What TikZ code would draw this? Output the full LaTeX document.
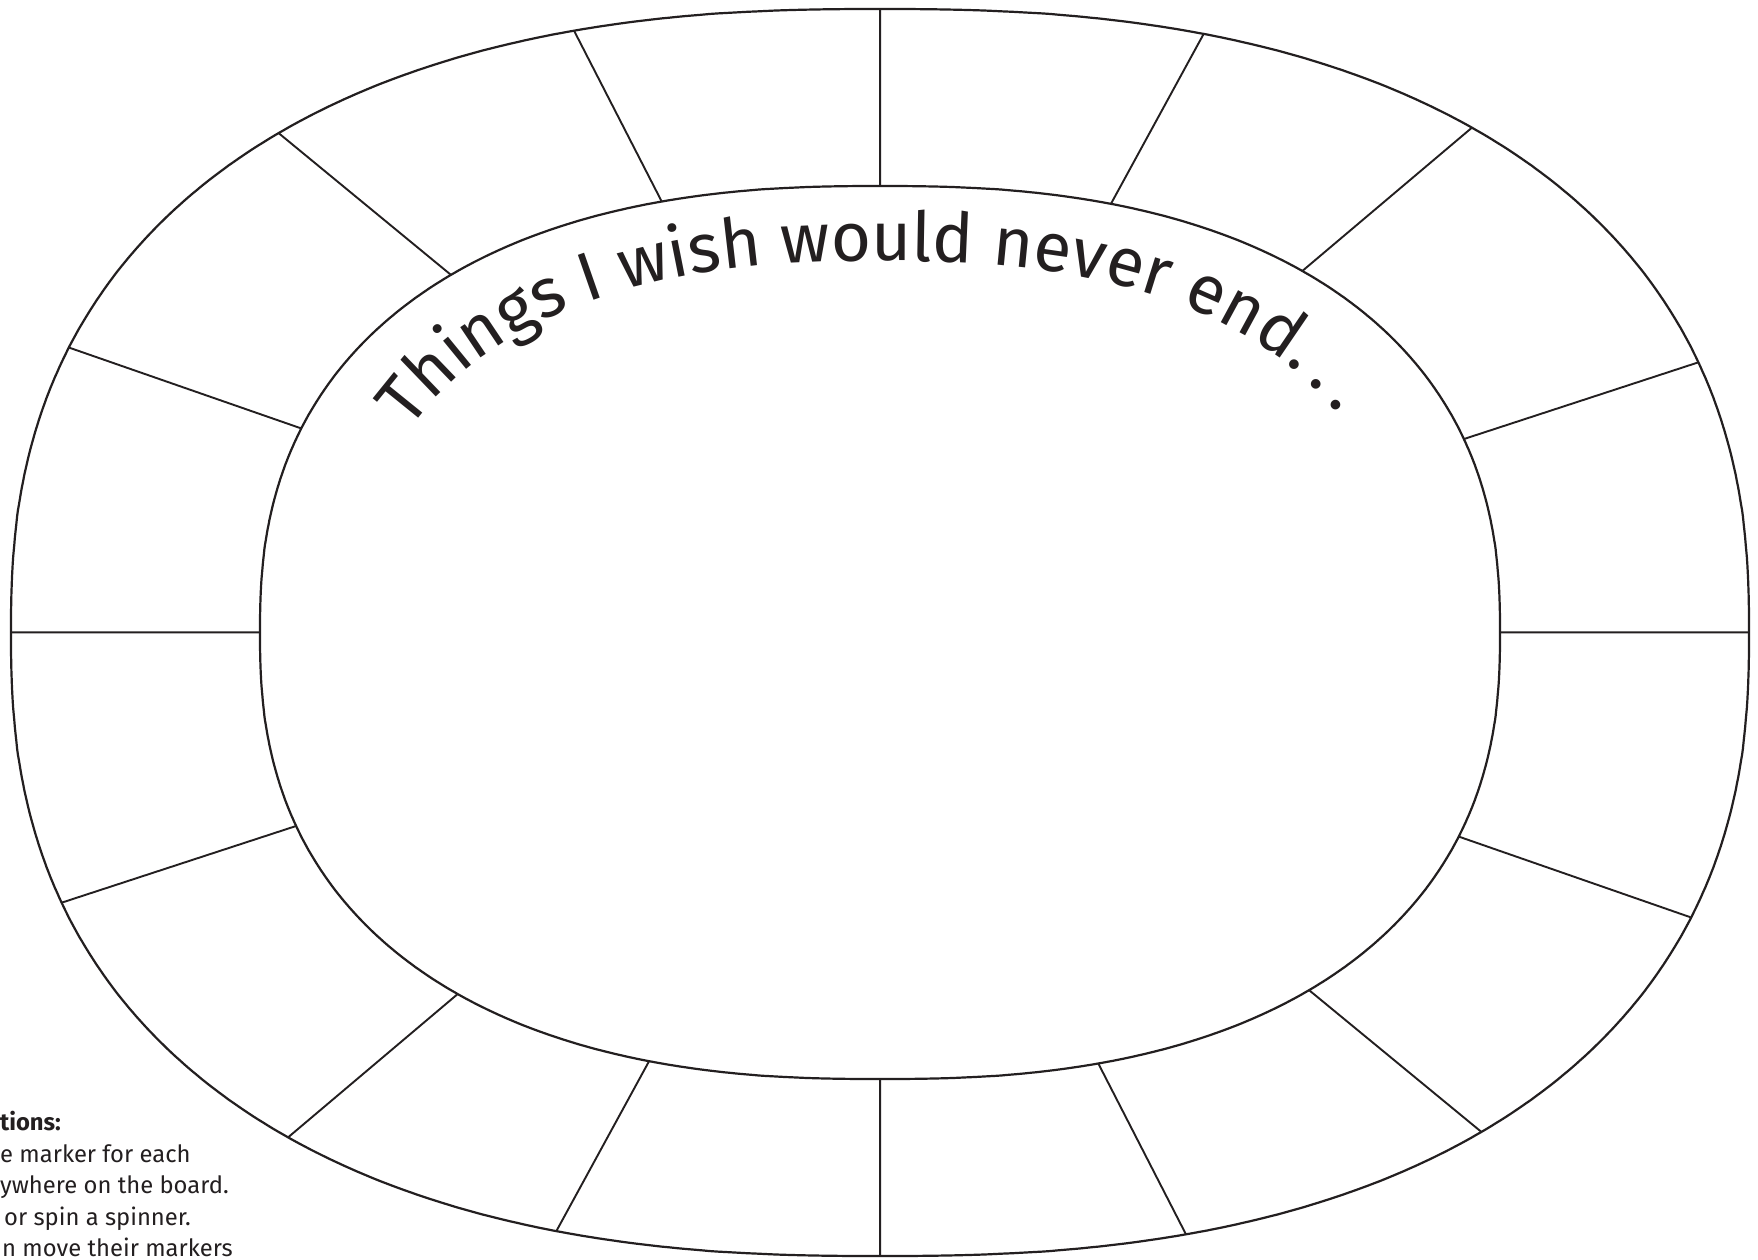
\documentclass[tikz,border=0pt]{standalone}
\usepackage{fontspec}
\setmainfont{Fira Sans}
\usetikzlibrary{decorations.text}
\definecolor{ink}{HTML}{231F20}
\newcommand\boardtitlefont{\fontsize{69}{83}\selectfont\color{ink}}
\newcommand\boarddotgap{\fontsize{46}{46}\selectfont\color{ink}}
\tikzset{
  declare function={
    sgnf(\t)=ifthenelse(\t<0,-1,1);
    spx(\t)=sgnf(cos(\t))*pow(abs(cos(\t))+0.00001,0.8333);
    spy(\t)=sgnf(sin(\t))*pow(abs(sin(\t))+0.00001,0.8333);
  },
  rim/.style={draw=ink, line width=2.2pt, line join=round},
  spoke/.style={draw=ink, line width=1.9pt},
  note/.style={anchor=base west, inner sep=0pt, text=ink, font=\fontsize{23.8}{30}\selectfont},
}
\begin{document}
\begin{tikzpicture}[x=1pt, y=-1pt]
  \useasboundingbox (0,0) rectangle (1758,1259);
  \fill[white] (0,0) rectangle (1758,1259);
  % outer and inner rims (superellipses)
  \draw[rim] plot[domain=0:359.5, samples=720] ({880+869*spx(\x)},{632.5-623.5*spy(\x)}) -- cycle;
  \draw[rim] plot[domain=0:359.5, samples=720] ({880+620*spx(\x)},{632.5-446.5*spy(\x)}) -- cycle;
  % spokes
  \foreach \t in {0,21.5,50.9,72.2,90,106.6,130,157,180,201.5,230.9,252.2,270,286.6,310,337}{
    \draw[spoke] ({880+620*spx(\t)},{632.5-446.5*spy(\t)}) -- ({880+869*spx(\t)},{632.5-623.5*spy(\t)});
  }
  % curved title
  \path[decorate, decoration={text along path,
      text={|\boardtitlefont|Things I wish would never end.|\boarddotgap| |\boardtitlefont|.|\boarddotgap| |\boardtitlefont|.},
      text align={center, right indent=20pt}}]
    plot[domain=175:5, samples=171] ({880+525*spx(\x)},{632.5-371.5*spy(\x)});
  % cut-off directions text
  \node[note, font=\fontsize{23.8}{30}\selectfont\bfseries] (n1) at (0,1130) {tions:};
  \node[note] (n2) at (0,1162) {e marker for each};
  \node[note] (n3) at (0,1193) {ywhere on the board.};
  \node[note] (n4) at (4,1225) {or spin a spinner.};
  \node[note] (n5) at (2,1256) {n move their markers};
\end{tikzpicture}
\end{document}
